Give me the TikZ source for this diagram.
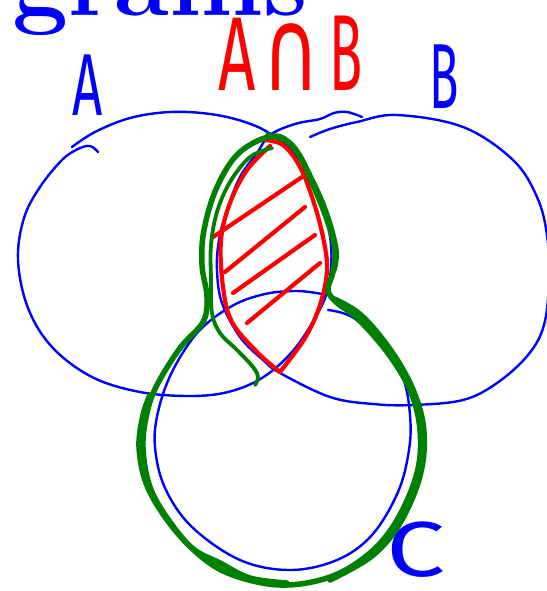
\documentclass[tikz,border=0pt]{standalone}
\usepackage{fontspec}
\newfontfamily\hand{Fira Sans}
\newfontfamily\sym{DejaVu Sans}
\definecolor{vblue}{RGB}{0,0,255}
\definecolor{vred}{RGB}{255,0,0}
\definecolor{vgreen}{RGB}{0,128,0}
\begin{document}
\begin{tikzpicture}[x=1pt,y=-1pt,line cap=round,line join=round,
  bl/.style={draw=vblue,line width=2.4pt},
  rd/.style={draw=vred,line width=4.2pt},
  gr/.style={draw=vgreen,line width=5.5pt},
  grt/.style={draw=vgreen,line width=3.8pt},
  lbl/.style={inner sep=0pt,font=\hand\fontsize{88}{88}\selectfont}]
\useasboundingbox (0,0) rectangle (546,591);
% title
\node[anchor=base west,inner sep=0pt,text=vblue] (title) at (12,16) {\fontsize{100}{100}\selectfont\bfseries grams};
% set A
\draw[bl] plot[smooth,tension=0.6] coordinates {(72,147) (95,132) (130,118) (170,112) (210,114) (245,122) (272,135) (300,160) (320,198) (331,245) (328,288) (315,318) (292,352) (262,378) (228,392) (190,396) (140,392) (92,377) (52,347) (28,308) (18,260) (24,218) (40,187) (62,160) (78,149) (90,146) (98,152)};
% set B
\draw[bl] plot[smooth,tension=0.6] coordinates {(310,137) (330,129) (357,122) (397,115) (463,127) (513,160) (537,197) (547,235) (549,280) (544,325) (528,355) (497,383) (463,400) (413,405) (373,404) (330,397) (280,373) (263,360) (240,337) (222,303) (217,270) (219,240) (227,210) (240,177) (257,153) (270,135) (295,124) (320,119) (334,113) (347,112) (362,117)};
% set C
\draw[bl] plot[smooth,tension=0.6] coordinates {(328,310) (352,317) (383,343) (403,378) (410,415) (409,450) (398,492) (372,535) (337,560) (290,570) (240,560) (192,527) (165,488) (155,447) (158,412) (172,372) (198,332) (232,306) (265,294) (297,291) (322,294)};
% red lens
\draw[rd] plot[smooth,tension=0.6] coordinates {(264,140) (283,145) (300,167) (313,200) (323,237) (327,270) (320,305) (305,338) (280,372)};
\draw[rd] plot[smooth,tension=0.6] coordinates {(280,372) (257,352) (232,322) (223,287) (221,240) (230,203) (247,170) (270,146)};
\draw[rd] (213,237) -- (302,177);
\draw[rd] (225,272) -- (305,207);
\draw[rd] (233,293) -- (315,235);
\draw[rd] (247,323) -- (320,263);
% green outline of (A and B) or C
\draw[gr] plot[smooth cycle,tension=0.6] coordinates {(275,136) (297,152) (313,185) (327,220) (335,250) (333,272) (328,290) (337,303) (357,318) (387,352) (410,390) (420,430) (417,473) (397,520) (370,553) (330,577) (280,585) (230,574) (197,553) (170,522) (150,487) (143,447) (147,413) (157,385) (180,348) (203,322) (207,297) (202,265) (204,230) (217,187) (240,152)};
\draw[gr] plot[smooth,tension=0.6] coordinates {(268,135) (292,145) (312,180) (327,215) (336,250) (334,270)};
\draw[gr] plot[smooth,tension=0.6] coordinates {(332,298) (361,315) (392,352) (414,392) (424,432) (420,476) (400,523) (372,556) (330,580)};
\draw[gr] plot[smooth,tension=0.6] coordinates {(150,395) (143,415) (139,447) (146,483) (165,517) (192,548) (220,563) (250,578) (287,583)};
\draw[grt] plot[smooth,tension=0.6] coordinates {(272,148) (250,157) (230,182) (217,212) (211,245) (211,280) (212,313) (220,333) (237,350) (253,367) (258,377) (255,385)};
% labels
\node[lbl,text=vblue] (la) at (88,85) {\scalebox{0.6}[1]{A}};
\node[lbl,text=vblue] (lb) at (444,77) {\scalebox{0.55}[1.05]{B}};
\node[lbl,text=vblue,font=\hand\fontsize{78}{78}\selectfont] (lc) at (416,550) {\scalebox{1.35}[1]{C}};
\node[lbl,text=vred,font=\hand\fontsize{105}{105}\selectfont] (lab) at (291,53) {\scalebox{0.62}[1]{A}\hspace{6pt}{\sym\scalebox{0.75}[1.1]{∩}}\hspace{10pt}\scalebox{0.52}[1.03]{B}};
\end{tikzpicture}
\end{document}
